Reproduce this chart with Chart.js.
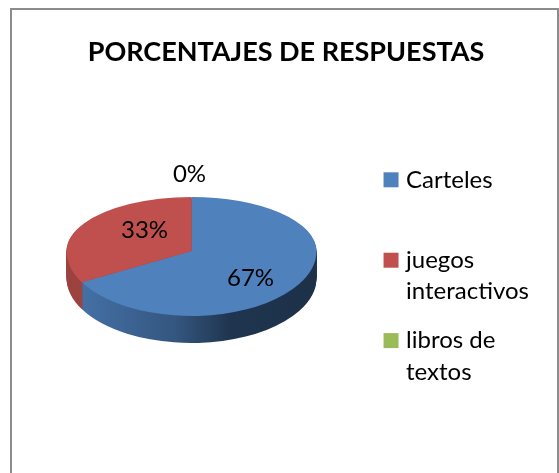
<!DOCTYPE html>
<html><head><meta charset="utf-8">
<style>
html,body{margin:0;padding:0;background:#fff;overflow:hidden}
#frame{position:absolute;left:10px;top:8px;width:545px;height:470px;border:2px solid #8c8c8c;border-bottom:0}
#c{position:absolute;left:0;top:0}
</style></head><body>
<div id="frame"></div>
<canvas id="c" width="559" height="473"></canvas>
<script src="https://cdn.jsdelivr.net/npm/chart.js@4"></script>
<script>
const TITLE = 'PORCENTAJES DE RESPUESTAS';
const categories = ['Carteles', 'juegos interactivos', 'libros de textos'];
const legendLines = [['Carteles', ''], ['juegos', 'interactivos'], ['libros de', 'textos']];
const values = [67, 33, 0];
const sliceColors = ['#4f81bd', '#c0504d', '#9bbb59'];
const FONT = 'Lato, Carlito, Calibri, sans-serif';

// look of the tilted pie
const RADIUS = 125, SQUASH_BACK = 54 / 125, SQUASH_FRONT = 65 / 125, DEPTH = 27, NUDGE_X = -10;
const labelShift = [[59, 27], [-47, -21], [-2, -77]];

function sideFill(ctx, i, cx) {
  if (i === 1) return '#9c4340';
  if (i === 2) return '#7d9848';
  const g = ctx.createLinearGradient(cx - 113, 0, cx + 125, 0);
  g.addColorStop(0, '#4674ab');
  g.addColorStop(0.45, '#34567f');
  g.addColorStop(0.68, '#1f354f');
  g.addColorStop(1, '#1d3149');
  return g;
}

function paintSlices(chart, ctx, dy, fillFor) {
  const meta = chart.getDatasetMeta(0);
  const a = chart.width;
  meta.data.forEach((el, i) => {
    if (!values[i]) return;
    const keep = el.options;
    el.options = Object.assign({}, keep, {borderWidth: 0, backgroundColor: fillFor(i, el)});
    const cy = Math.round(el.y) + dy;
    [[SQUASH_BACK, cy - 1000], [SQUASH_FRONT, cy]].forEach(([sq, top]) => {
      ctx.save();
      ctx.beginPath();
      ctx.rect(0, top, a, 1000);
      ctx.clip();
      ctx.translate(NUDGE_X, cy);
      ctx.scale(1, sq);
      ctx.translate(0, -el.y);
      el.draw(ctx);
      ctx.restore();
    });
    el.options = keep;
  });
}

const tiltedPie = {
  id: 'tiltedPie',
  beforeDatasetsDraw(chart) {
    const ctx = chart.ctx;
    const el0 = chart.getDatasetMeta(0).data[0];
    for (let d = DEPTH; d >= 1; d--) {
      paintSlices(chart, ctx, d, i => sideFill(ctx, i, el0.x + NUDGE_X));
    }
    paintSlices(chart, ctx, 0, i => sliceColors[i]);
    return false;
  },
  afterDraw(chart) {
    const ctx = chart.ctx;
    const el0 = chart.getDatasetMeta(0).data[0];
    ctx.save();
    ctx.font = '24px ' + FONT;
    ctx.fillStyle = '#000';
    ctx.textAlign = 'center';
    ctx.textBaseline = 'middle';
    values.forEach((v, i) => {
      ctx.fillText(v + '%', el0.x + NUDGE_X + labelShift[i][0], el0.y + labelShift[i][1]);
    });
    ctx.restore();
  }
};

new Chart(document.getElementById('c'), {
  type: 'pie',
  data: {
    labels: categories,
    datasets: [{data: values, backgroundColor: sliceColors, borderWidth: 0, radius: RADIUS}]
  },
  options: {
    responsive: false,
    animation: false,
    layout: {padding: {left: 33, right: 20, top: 0, bottom: 64}},
    plugins: {
      tooltip: {enabled: false},
      title: {
        display: true, text: TITLE, color: '#000',
        font: {family: FONT, size: 27, weight: 'bold', lineHeight: 1.2},
        padding: {top: 36, bottom: 25}
      },
      legend: {
        position: 'right', align: 'end',
        labels: {
          color: '#000', boxWidth: 6, boxHeight: 6, padding: 18,
          font: {family: FONT, size: 24, lineHeight: 1.3},
          generateLabels() {
            return legendLines.map((text, i) => ({text, fillStyle: sliceColors[i], strokeStyle: sliceColors[i], lineWidth: 9, index: i}));
          }
        }
      }
    }
  },
  plugins: [tiltedPie]
});
</script>
</body></html>
